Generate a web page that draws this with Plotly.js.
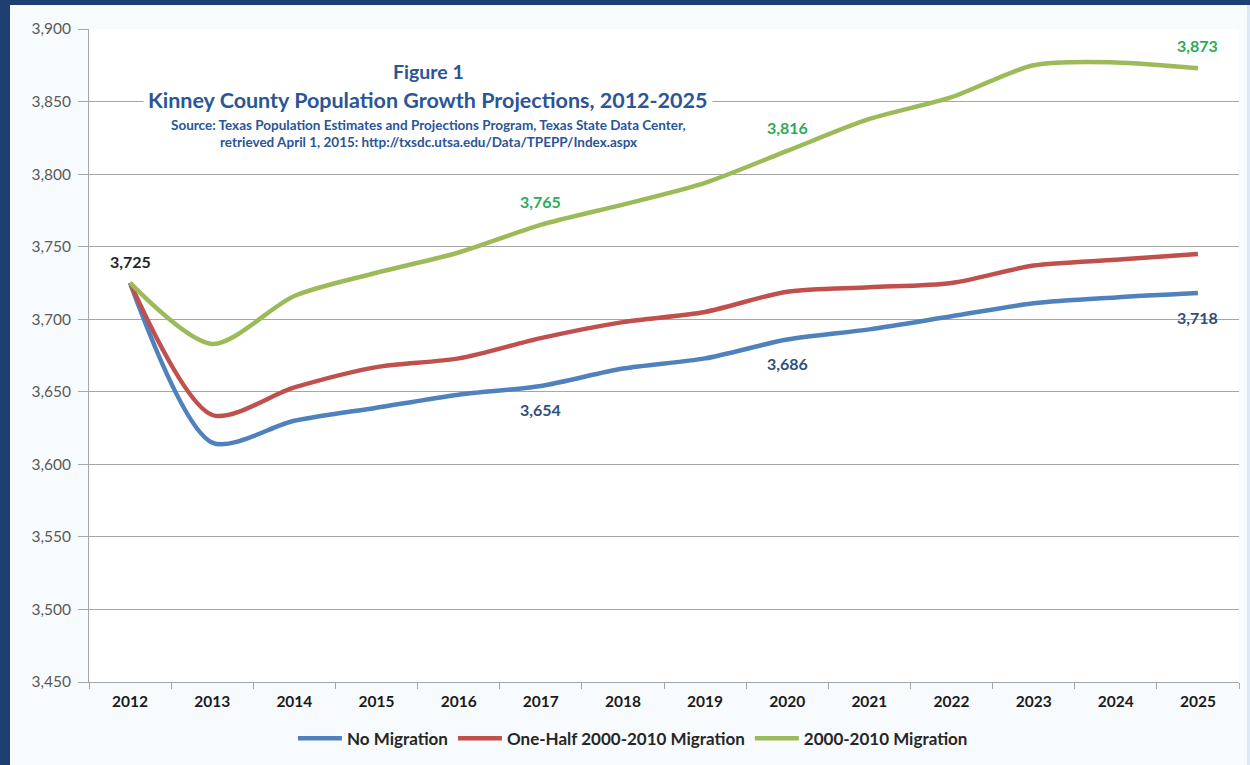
<!DOCTYPE html>
<html>
<head>
<meta charset="utf-8">
<script src="https://cdn.plot.ly/plotly-3.0.1.min.js"></script>
<style>
  html, body { margin: 0; padding: 0; }
  #frame { position: absolute; left: 0; top: 0; width: 1250px; height: 765px; background: #1F3F73; overflow: hidden; }
  #chart { position: absolute; left: 10px; top: 5px; width: 1237px; height: 760px; }
  #edge { position: absolute; left: 1247px; top: 5px; width: 3px; height: 760px; background: #DDE8F3; }
</style>
</head>
<body>
<div id="frame"><div id="chart"></div><div id="edge"></div></div>
<script>
const years = ["2012","2013","2014","2015","2016","2017","2018","2019","2020","2021","2022","2023","2024","2025"];
const noMigration = [3725, 3615, 3630, 3639, 3648, 3654, 3666, 3673, 3686, 3693, 3702, 3711, 3715, 3718];
const halfMigration = [3725, 3634, 3653, 3667, 3673, 3687, 3698, 3705, 3719, 3722, 3725, 3737, 3741, 3745];
const fullMigration = [3725, 3683, 3716, 3732, 3746, 3765, 3779, 3794, 3816, 3838, 3853, 3875, 3877, 3873];
const seriesNames = ["No Migration", "One-Half 2000-2010 Migration", "2000-2010 Migration"];
const yTicks = [3450, 3500, 3550, 3600, 3650, 3700, 3750, 3800, 3850, 3900];
const startLabelIdx = [0];
const blueLabelIdx = [5, 8, 13];
const greenLabelIdx = [5, 8, 13];
const titleLines = ["Figure 1", "Kinney County Population Growth Projections, 2012-2025",
  "Source: Texas Population Estimates and Projections Program, Texas State Data Center,",
  "retrieved April 1, 2015: http://txsdc.utsa.edu/Data/TPEPP/Index.aspx"];

const fmt = v => v.toLocaleString("en-US");
const FONT = "Lato, 'Open Sans', sans-serif";

function lineTrace(y, name, color) {
  return { x: years, y: y, name: name, type: "scatter", mode: "lines",
    line: { color: color, width: 4.5, shape: "spline", smoothing: 0.8 }, hoverinfo: "skip" };
}
const traces = [
  lineTrace(noMigration, seriesNames[0], "#4F81BD"),
  lineTrace(halfMigration, seriesNames[1], "#C0504D"),
  lineTrace(fullMigration, seriesNames[2], "#9BBB59")
];

const annotations = [];
function dataLabel(i, arr, shift, color) {
  annotations.push({ xref: "x", yref: "y", x: i, y: arr[i], text: "<b>" + fmt(arr[i]) + "</b>",
    showarrow: false, yshift: shift, font: { family: FONT, size: 16, color: color } });
}
startLabelIdx.forEach(i => dataLabel(i, noMigration, 21, "#262626"));
blueLabelIdx.forEach(i => dataLabel(i, noMigration, -24, "#2F4F7F"));
greenLabelIdx.forEach(i => dataLabel(i, fullMigration, 23, "#2DAA5A"));

const tx = 0.295;
function titleLine(text, y, size, bg) {
  const a = { xref: "paper", yref: "paper", x: tx, y: y, xanchor: "center", yanchor: "middle",
    text: "<b>" + text + "</b>", showarrow: false, font: { family: FONT, size: size, color: "#2A5597" } };
  if (bg) { a.bgcolor = "#FFFFFF"; a.borderpad = 4; }
  annotations.push(a);
}
titleLine(titleLines[0], 0.935, 19.5, false);
titleLine(titleLines[1], 0.8915, 21.5, true);
titleLine(titleLines[2], 0.853, 13.5, false);
titleLine(titleLines[3], 0.827, 13.5, false);

const layout = {
  width: 1237, height: 760,
  margin: { l: 79, r: 8, t: 24, b: 81 },
  paper_bgcolor: "#F8FBFD",
  plot_bgcolor: "#FFFFFF",
  showlegend: true,
  legend: { orientation: "h", x: 0.473, xanchor: "center", y: -0.087, yanchor: "middle",
    font: { family: FONT, size: 17, color: "#262626", weight: "bold" }, itemwidth: 44, tracegroupgap: 0,
    bgcolor: "rgba(0,0,0,0)" },
  xaxis: { type: "category", tickson: "boundaries", ticks: "outside", ticklen: 6, tickcolor: "#A6A6A6",
    showline: true, linecolor: "#A6A6A6", linewidth: 1, showgrid: false,
    tickfont: { family: FONT, size: 15.5, color: "#1A1A1A", weight: "bold" }, ticklabelstandoff: 5,
    range: [-0.5, 13.5], fixedrange: true },
  yaxis: { range: [3450, 3900], tickvals: yTicks, ticktext: yTicks.map(fmt), ticks: "outside", ticklen: 10,
    tickcolor: "#A6A6A6", showline: true, linecolor: "#A6A6A6", linewidth: 1,
    showgrid: true, gridcolor: "#A6A6A6", gridwidth: 1, zeroline: false, ticklabelstandoff: 4,
    tickfont: { family: FONT, size: 15.5, color: "#595959" }, fixedrange: true },
  annotations: annotations
};

Plotly.newPlot("chart", traces, layout, { staticPlot: true, displayModeBar: false });
</script>
</body>
</html>
